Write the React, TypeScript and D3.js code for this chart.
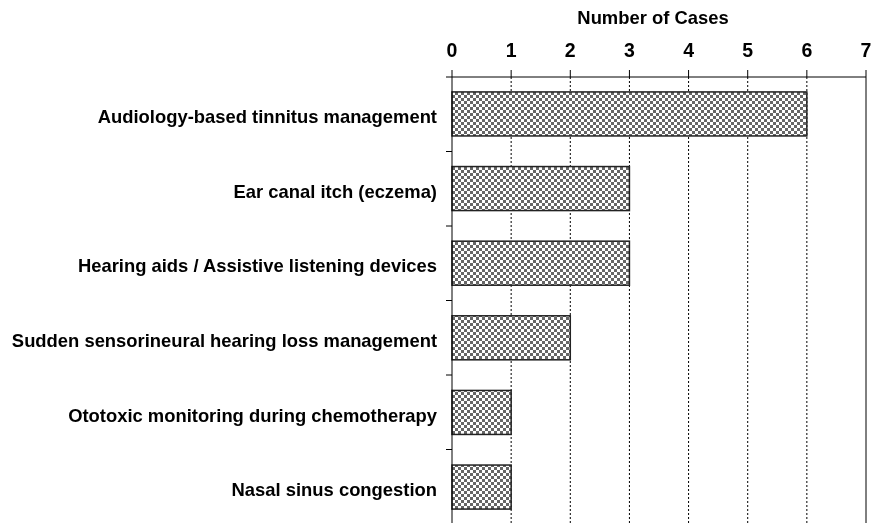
import * as d3 from 'd3';
import { useMemo } from 'react';

const categories = [
  'Audiology-based tinnitus management',
  'Ear canal itch (eczema)',
  'Hearing aids / Assistive listening devices',
  'Sudden sensorineural hearing loss management',
  'Ototoxic monitoring during chemotherapy',
  'Nasal sinus congestion',
];
const cases = [6, 3, 3, 2, 1, 1];
const ticks = [0, 1, 2, 3, 4, 5, 6, 7];

const width = 872;
const height = 523;
const margin = { top: 77, right: 6, bottom: -1, left: 452 };

export default function App() {
  const boundsWidth = width - margin.left - margin.right;
  const boundsHeight = height - margin.top - margin.bottom;

  const xScale = useMemo(() => d3.scaleLinear().domain([0, 7]).range([0, boundsWidth]), [boundsWidth]);
  const yScale = useMemo(
    () => d3.scaleBand().domain(categories).range([0, boundsHeight]).paddingInner(0.41).paddingOuter(0.2),
    [boundsHeight]
  );
  const bandStep = boundsHeight / categories.length;

  const font = '"Liberation Sans", Arial, sans-serif';

  return (
    <svg width={width} height={height} style={{ position: 'fixed', left: 0, top: 0 }} fontFamily={font}>
      <defs>
        <pattern id="checker" width={6} height={6} patternUnits="userSpaceOnUse">
          <rect width={6} height={6} fill="#fff" />
          <rect width={3} height={3} fill="#666" />
          <rect x={3} y={3} width={3} height={3} fill="#666" />
        </pattern>
      </defs>
      <text x={653} y={24} textAnchor="middle" fontSize={18.4} fontWeight="bold">
        Number of Cases
      </text>
      <g transform={`translate(${margin.left},${margin.top})`}>
        {/* gridlines */}
        {ticks.slice(1, -1).map((t) => (
          <line key={t} x1={xScale(t)} x2={xScale(t)} y1={0} y2={boundsHeight} stroke="#000" strokeWidth={1} strokeDasharray="2,2" />
        ))}
        <line x1={xScale(7)} x2={xScale(7)} y1={0} y2={boundsHeight} stroke="#000" />
        {/* bars */}
        {categories.map((c, i) => (
          <rect
            key={c}
            x={xScale(0)}
            y={yScale(c)}
            width={xScale(cases[i]) - xScale(0)}
            height={yScale.bandwidth()}
            fill="url(#checker)"
            stroke="#222"
            strokeWidth={1.5}
          />
        ))}
        {/* top axis */}
        <line x1={-6} x2={boundsWidth} y1={0} y2={0} stroke="#000" />
        {ticks.map((t) => (
          <g key={t} transform={`translate(${xScale(t)},0)`}>
            <line y1={0} y2={-7} stroke="#000" />
            <text y={-20} textAnchor="middle" fontSize={19.5} fontWeight="bold">
              {t}
            </text>
          </g>
        ))}
        {/* left axis */}
        <line x1={0} x2={0} y1={0} y2={boundsHeight} stroke="#000" />
        {categories.slice(1).map((c, i) => (
          <line key={c} x1={-6} x2={0} y1={bandStep * (i + 1)} y2={bandStep * (i + 1)} stroke="#000" />
        ))}
        {categories.map((c) => (
          <text
            key={c}
            x={-15}
            y={(yScale(c) ?? 0) + yScale.bandwidth() / 2}
            dy="0.5em"
            textAnchor="end"
            fontSize={18.4}
            fontWeight="bold"
          >
            {c}
          </text>
        ))}
      </g>
    </svg>
  );
}
